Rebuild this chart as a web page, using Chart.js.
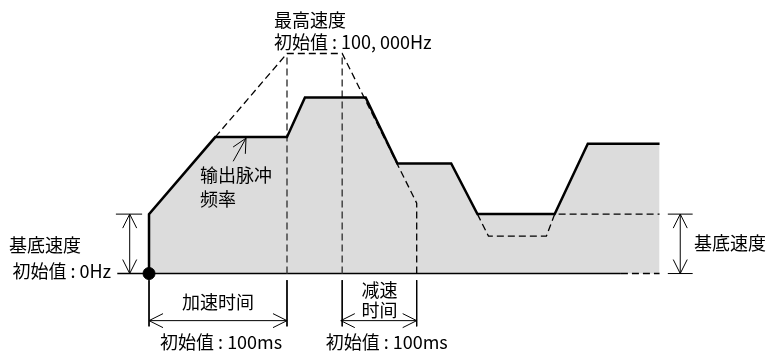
<!DOCTYPE html>
<html>
<head>
<meta charset="utf-8">
<script src="https://cdn.jsdelivr.net/npm/chart.js@4"></script>
<style>
  html, body { margin: 0; padding: 0; background: #fff; }
</style>
</head>
<body>
<canvas id="c" width="768" height="351"></canvas>
<script>
// time axis in ms, speed axis in kHz (schematic)
// 输出脉冲频率
const profileT = [0, 0, 48, 100, 113, 157, 180, 219, 238, 294, 318, 370];
const profileV = [0, 27, 62, 62, 80, 80, 50, 50, 27, 27, 59, 59];
// 最高速度 (100,000Hz) 时的曲线
const maxT = [48, 100, 140, 194, 194];
const maxV = [62, 100, 100, 32, 0];
// 基底速度 以下的虚线
const dipT = [238, 246, 288, 294, 370];
const dipV = [27, 17, 17, 27, 27];
const baseSpeed = 27;
const accelTime = [0, 100];
const decelTime = [140, 194];

const pts = (ts, vs) => ts.map((t, i) => ({ x: t, y: vs[i] }));
const seg = (data, opt) => Object.assign({
  data, showLine: true, pointRadius: 0, borderColor: '#000',
  borderWidth: 1, fill: false, tension: 0
}, opt);
const DASH = [7, 4];

const datasets = [
  // start dot
  { data: [{ x: 0, y: 0 }], pointRadius: 6, pointBackgroundColor: '#000', pointBorderColor: '#000', showLine: false },
  // output pulse frequency
  seg(pts(profileT, profileV), { borderWidth: 2.5 }),
  // max speed dashed
  seg(pts(maxT, maxV), { borderWidth: 1.3, borderDash: DASH }),
  seg(pts([accelTime[1], accelTime[1]], [0, 100]), { borderWidth: 1.5, borderDash: DASH, borderColor: '#444' }),
  seg(pts([decelTime[0], decelTime[0]], [0, 100]), { borderWidth: 1.5, borderDash: DASH, borderColor: '#444' }),
  seg(pts(dipT, dipV), { borderWidth: 1.3, borderDash: DASH }),
  // baseline
  seg(pts([-23, 342], [0, 0]), { borderWidth: 1.5 }),
  seg(pts([342, 370], [0, 0]), { borderWidth: 1.5, borderDash: DASH }),
  // extension ticks for 基底速度
  seg(pts([-24, -5], [baseSpeed, baseSpeed])),
  seg(pts([376, 394], [baseSpeed, baseSpeed])),
  seg(pts([376, 394], [0, 0])),
  // time ticks under baseline
  seg(pts([accelTime[0], accelTime[0]], [-3, -24])),
  seg(pts([accelTime[1], accelTime[1]], [-3, -24])),
  seg(pts([decelTime[0], decelTime[0]], [-3, -24])),
  seg(pts([decelTime[1], decelTime[1]], [-3, -24])),
  // gray area
  seg(pts(profileT, profileV), { borderWidth: 0, borderColor: 'rgba(0,0,0,0)', fill: 'origin', backgroundColor: '#dcdcdc' })
];

// arrows: [t1, v1, t2, v2, doubleHeaded]
const arrows = [
  [-14, 0, -14, baseSpeed, true],
  [385, 0, 385, baseSpeed, true],
  [accelTime[0], -21.4, accelTime[1], -21.4, true],
  [decelTime[0] - 1, -21.4, decelTime[1], -21.4, true],
  [61, 51, 70.3, 61.5, false]
];
// labels: [text, t, v, align]
const labels = [
  ['最高速度', 90.5, 115, 'left'],
  ['初始值 : 100, 000Hz', 90.5, 105, 'left'],
  ['输出脉冲', 37, 44.5, 'left'],
  ['频率', 37, 34, 'left'],
  ['基底速度', -101.5, 12.7, 'left'],
  ['初始值 : 0Hz', -99, 1, 'left'],
  ['基底速度', 395, 13.6, 'left'],
  ['加速时间', 50, -13, 'center'],
  ['减速', 154, -7.5, 'left'],
  ['时间', 154, -16.8, 'left'],
  ['初始值 : 100ms', 8, -31.4, 'left'],
  ['初始值 : 100ms', 128, -31.4, 'left']
];

function head(ctx, x, y, fx, fy, len, w) {
  const a = Math.atan2(y - fy, x - fx);
  ctx.beginPath();
  ctx.moveTo(x - len * Math.cos(a) + w * Math.sin(a), y - len * Math.sin(a) - w * Math.cos(a));
  ctx.lineTo(x, y);
  ctx.lineTo(x - len * Math.cos(a) - w * Math.sin(a), y - len * Math.sin(a) + w * Math.cos(a));
  ctx.stroke();
}

const annot = {
  id: 'annot',
  afterDatasetsDraw(chart) {
    const { ctx, scales: { x, y } } = chart;
    ctx.save();
    ctx.strokeStyle = '#000';
    ctx.lineWidth = 1;
    arrows.forEach(a => {
      const x1 = x.getPixelForValue(a[0]), y1 = y.getPixelForValue(a[1]);
      const x2 = x.getPixelForValue(a[2]), y2 = y.getPixelForValue(a[3]);
      ctx.beginPath();
      ctx.moveTo(x1, y1);
      ctx.lineTo(x2, y2);
      ctx.stroke();
      head(ctx, x2, y2, x1, y1, 14, 7);
      if (a[4]) head(ctx, x1, y1, x2, y2, 14, 7);
    });
    ctx.fillStyle = '#000';
    ctx.font = '18px "Noto Sans CJK JP", "Noto Sans CJK SC", sans-serif';
    ctx.textBaseline = 'middle';
    labels.forEach(l => {
      ctx.textAlign = l[3];
      ctx.fillText(l[0], x.getPixelForValue(l[1]), y.getPixelForValue(l[2]));
    });
    ctx.restore();
  }
};

new Chart(document.getElementById('c'), {
  type: 'scatter',
  data: { datasets },
  options: {
    responsive: false,
    animation: false,
    layout: { padding: 0, autoPadding: false },
    plugins: { legend: { display: false }, tooltip: { enabled: false } },
    scales: {
      x: { type: 'linear', display: false, min: -108, max: 448.6 },
      y: { type: 'linear', display: false, min: -35.2, max: 124.3 }
    }
  },
  plugins: [annot]
});
</script>
</body>
</html>
